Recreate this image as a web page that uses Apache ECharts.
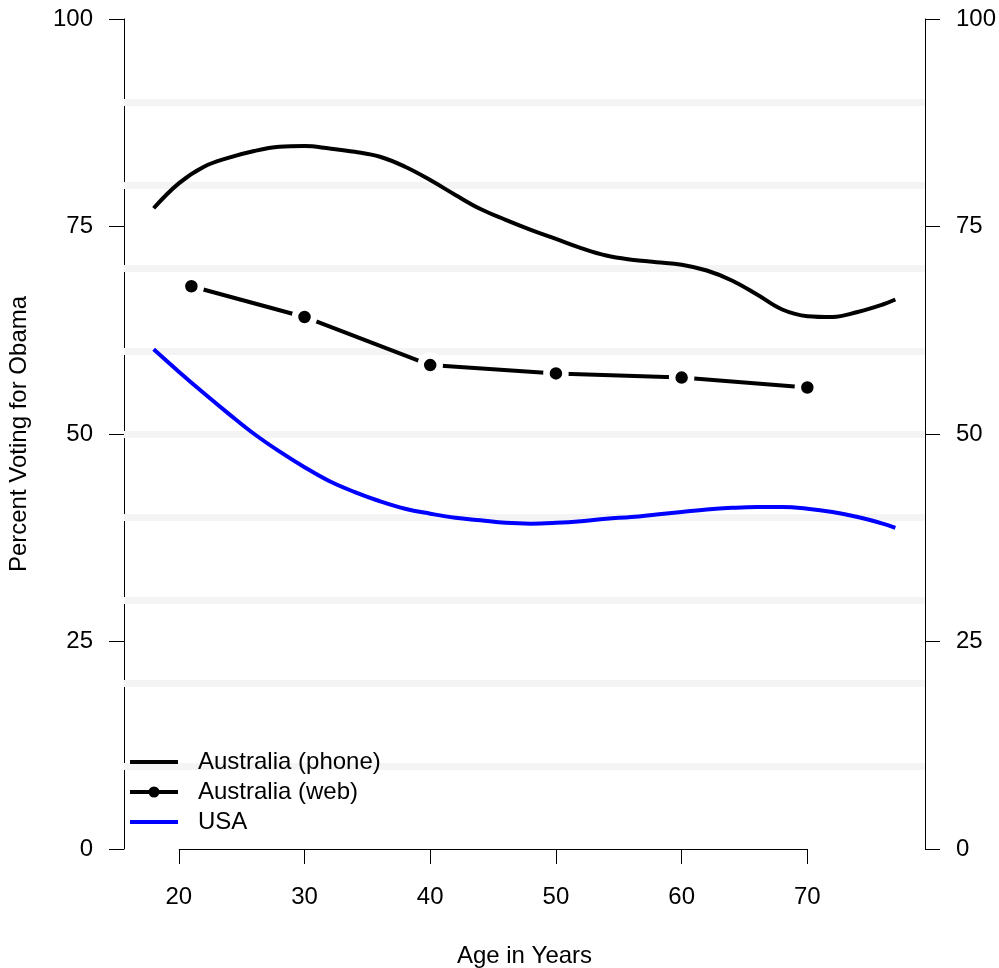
<!DOCTYPE html>
<html>
<head>
<meta charset="utf-8">
<script src="https://cdn.jsdelivr.net/npm/echarts@6/dist/echarts.min.js"></script>
<style>html,body{margin:0;padding:0;background:#fff}#c{width:999px;height:968px}</style>
</head>
<body>
<div id="c"></div>
<script>
// Ages (x) for smooth curves
const phoneAges = [18,20,22,24,26,28,30,32,34,36,38,40,42,44,46,48,50,52,54,56,58,60,62,64,66,68,70,72,74,76,77];
const phoneVals = [77.2,80.2,82.2,83.3,84.1,84.6,84.7,84.4,84.0,83.4,82.2,80.6,78.8,77.1,75.8,74.6,73.5,72.4,71.5,71.0,70.7,70.4,69.7,68.5,66.8,65.0,64.2,64.1,64.7,65.6,66.2];
const webAges = [21,30,40,50,60,70];
const webVals = [67.8,64.1,58.3,57.3,56.8,55.6];
const usaAges = [18,20,22,24,26,28,30,32,34,36,38,40,42,44,46,48,50,52,54,56,58,60,62,64,66,68,70,72,74,76,77];
const usaVals = [60.2,57.5,54.9,52.4,50.0,47.9,46.0,44.3,43.0,41.9,41.0,40.4,39.9,39.6,39.3,39.2,39.3,39.5,39.8,40.0,40.3,40.6,40.9,41.1,41.2,41.2,41.0,40.6,40.0,39.2,38.7];
const xTicks = [20,30,40,50,60,70];
const gridVals = [10,20,30,40,50,60,70,80,90];
const seriesNames = ['Australia (phone)','Australia (web)','USA'];

const zip = (a,b) => a.map((v,i) => [v, b[i]]);
const FONT = 'Liberation Sans, Arial, Helvetica, sans-serif';
const FS = 24;

// legend icons: 48x22 bounding box, horizontal bar (and dot for web)
const bounds = ' M0,0 L0.01,0 L0.01,0.01 Z M47.99,21.99 L48,21.99 L48,22 Z';
const iconLine = 'path://M0,9 L48,9 L48,13 L0,13 Z' + bounds;
const iconDot = 'path://M0,9 L48,9 L48,13 L0,13 Z M18.5,11 A5.5,5.5 0 1,1 29.5,11 A5.5,5.5 0 1,1 18.5,11 Z' + bounds;

const chart = echarts.init(document.getElementById('c'), null, {renderer:'canvas'});
const yAxisBase = {
  type:'value', min:0, max:100, interval:25,
  axisLine:{show:true, lineStyle:{color:'#000', width:1}},
  axisTick:{show:true, length:15, lineStyle:{color:'#000', width:1}},
  axisLabel:{color:'#000', fontSize:FS, fontFamily:FONT, margin:31},
  splitLine:{show:false}
};
chart.setOption({
  animation:false,
  backgroundColor:'#fff',
  grid:{left:124, right:74, top:19, bottom:119, containLabel:false, outerBoundsMode:'none'},
  xAxis:{
    type:'value', min:15.64, max:79.36,
    name:'Age in Years', nameLocation:'middle', nameGap:95,
    nameTextStyle:{color:'#000', fontSize:FS, fontFamily:FONT},
    axisLine:{show:false},
    axisTick:{show:true, length:15, customValues:xTicks, lineStyle:{color:'#000', width:1}},
    axisLabel:{color:'#000', fontSize:FS, fontFamily:FONT, margin:36, customValues:xTicks},
    splitLine:{show:false}
  },
  yAxis:[
    Object.assign({}, yAxisBase, {position:'left', name:'Percent Voting for Obama', nameLocation:'middle', nameGap:93,
      nameTextStyle:{color:'#000', fontSize:FS, fontFamily:FONT}}),
    Object.assign({}, yAxisBase, {position:'right'})
  ],
  legend:{
    orient:'vertical', left:130, top:750, padding:0,
    itemWidth:48, itemHeight:22, itemGap:6,
    textStyle:{color:'#000', fontSize:FS, fontFamily:FONT, padding:[0,0,0,15]},
    data:[
      {name:seriesNames[0], icon:iconLine, itemStyle:{color:'#000', borderWidth:0}},
      {name:seriesNames[1], icon:iconDot, itemStyle:{color:'#000', borderWidth:0}},
      {name:seriesNames[2], icon:iconLine, itemStyle:{color:'#0000ff', borderWidth:0}}
    ]
  },
  series:[
    {
      type:'line', name:'_grid', data:[], silent:true, z:1,
      markLine:{
        silent:true, symbol:'none', label:{show:false}, z:1,
        lineStyle:{color:'#f4f4f4', width:7, type:'solid'},
        data: gridVals.map(v => ({yAxis:v})).concat([
          [{coord:[xTicks[0],0], lineStyle:{color:'#000', width:1, type:'solid'}},
           {coord:[xTicks[xTicks.length-1],0]}]
        ])
      }
    },
    {
      type:'line', name:seriesNames[0], data:zip(phoneAges, phoneVals), smooth:0.4,
      symbol:'none', lineStyle:{color:'#000', width:4}, itemStyle:{color:'#000'}, z:3
    },
    {
      type:'line', name:seriesNames[1], data:zip(webAges, webVals), smooth:false,
      symbol:'circle', symbolSize:19, showSymbol:true,
      lineStyle:{color:'#000', width:4}, itemStyle:{color:'#000', borderColor:'#fff', borderWidth:6.5}, z:3
    },
    {
      type:'line', name:seriesNames[2], data:zip(usaAges, usaVals), smooth:0.4,
      symbol:'none', lineStyle:{color:'#0000ff', width:4}, itemStyle:{color:'#0000ff'}, z:3
    }
  ]
});
</script>
</body>
</html>
